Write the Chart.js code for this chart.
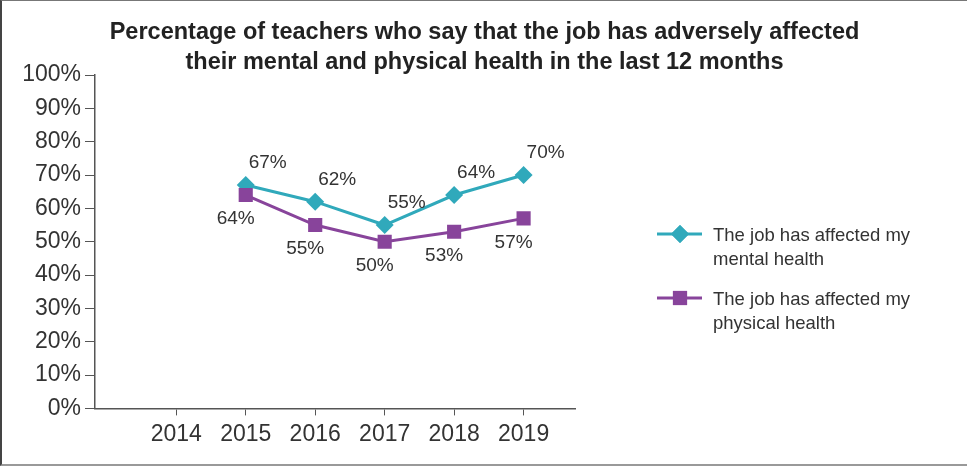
<!DOCTYPE html>
<html>
<head>
<meta charset="utf-8">
<script src="https://cdn.jsdelivr.net/npm/chart.js@4/dist/chart.umd.min.js"></script>
<style>
  html, body { margin: 0; padding: 0; background: #fff; }
  #wrap {
    width: 965px; height: 463px; position: relative;
    border-top: 1px solid #777; border-left: 2px solid #444; border-bottom: 2px solid #999;
  }
</style>
</head>
<body>
<div id="wrap"><canvas id="myChart"></canvas></div>
<script>
var years = [2014, 2015, 2016, 2017, 2018, 2019];
var surveyYears = [2015, 2016, 2017, 2018, 2019];
var mentalHealth = [67, 62, 55, 64, 70];
var physicalHealth = [64, 55, 50, 53, 57];
var yTicks = [0, 10, 20, 30, 40, 50, 60, 70, 80, 90, 100];
var titleLines = [
    'Percentage of teachers who say that the job has adversely affected',
    'their mental and physical health in the last 12 months'
];
var seriesNames = [
    ['The job has affected my', 'mental health'],
    ['The job has affected my', 'physical health']
];

var TEAL = '#30a9bb';
var PURPLE = '#88449b';
var TEXT = '#333333';
var AXIS = '#555555';
var FONT = '"Liberation Sans", Arial, sans-serif';

function toPoints(values) {
    return values.map(function(v, i) { return { x: surveyYears[i], y: v }; });
}

// title centred over the whole canvas, not just the plot
var wideTitle = {
    id: 'wideTitle',
    afterDraw: function(chart) {
        var ctx = chart.ctx;
        ctx.save();
        ctx.font = 'bold 23.5px ' + FONT;
        ctx.fillStyle = '#222';
        ctx.textAlign = 'center';
        ctx.textBaseline = 'middle';
        titleLines.forEach(function(line, i) {
            ctx.fillText(line, chart.width / 2, 32 + i * 30);
        });
        ctx.restore();
    }
};

// value labels next to each point, teal ones above-right, purple below-left
var pointLabels = {
    id: 'pointLabels',
    afterDatasetsDraw: function(chart) {
        var ctx = chart.ctx;
        ctx.save();
        ctx.font = '19px ' + FONT;
        ctx.fillStyle = TEXT;
        ctx.textAlign = 'center';
        ctx.textBaseline = 'middle';
        chart.data.datasets.forEach(function(ds, di) {
            var meta = chart.getDatasetMeta(di);
            meta.data.forEach(function(pt, i) {
                var dx = ds.labelSide === 'above' ? 22 : -10;
                var dy = ds.labelSide === 'above' ? -22 : 24;
                ctx.fillText(ds.data[i].y + '%', pt.x + dx, pt.y + dy);
            });
        });
        ctx.restore();
    }
};

// legend on the right: line with marker, two-line label
var sideLegend = {
    id: 'sideLegend',
    afterDraw: function(chart) {
        var ctx = chart.ctx;
        var x0 = chart.chartArea.right + 82;
        var rows = [233, 297];
        ctx.save();
        chart.data.datasets.forEach(function(ds, di) {
            var y = rows[di];
            ctx.strokeStyle = ds.borderColor;
            ctx.lineWidth = 3;
            ctx.beginPath();
            ctx.moveTo(x0, y);
            ctx.lineTo(x0 + 45, y);
            ctx.stroke();
            ctx.fillStyle = ds.pointBackgroundColor;
            Chart.helpers.drawPoint(ctx, {
                pointStyle: ds.pointStyle,
                radius: ds.pointRadius,
                rotation: 0,
                borderWidth: 0
            }, x0 + 23, y);
            ctx.fill();
            ctx.fillStyle = TEXT;
            ctx.font = '18.5px ' + FONT;
            ctx.textAlign = 'left';
            ctx.textBaseline = 'middle';
            seriesNames[di].forEach(function(line, li) {
                ctx.fillText(line, x0 + 56, y + 2 + li * 24);
            });
        });
        ctx.restore();
    }
};

var config = {
    type: 'line',
    data: {
        datasets: [{
            label: seriesNames[0].join(' '),
            data: toPoints(mentalHealth),
            borderColor: TEAL,
            backgroundColor: TEAL,
            pointBackgroundColor: TEAL,
            pointBorderWidth: 0,
            pointStyle: 'rectRot',
            pointRadius: 9,
            borderWidth: 3,
            labelSide: 'above',
            order: 1
        }, {
            label: seriesNames[1].join(' '),
            data: toPoints(physicalHealth),
            borderColor: PURPLE,
            backgroundColor: PURPLE,
            pointBackgroundColor: PURPLE,
            pointBorderWidth: 0,
            pointStyle: 'rect',
            pointRadius: 10,
            borderWidth: 3,
            labelSide: 'below',
            order: 0
        }]
    },
    options: {
        responsive: true,
        maintainAspectRatio: false,
        animation: false,
        layout: { padding: { left: 0, right: 392, top: 74, bottom: 11 } },
        plugins: {
            legend: { display: false },
            tooltip: { enabled: false },
            title: { display: false }
        },
        scales: {
            x: {
                type: 'linear',
                min: 2012.83,
                max: 2019.74,
                afterBuildTicks: function(s) {
                    s.ticks = years.map(function(v) { return { value: v }; });
                },
                ticks: {
                    color: TEXT,
                    font: { family: FONT, size: 23 },
                    padding: 5,
                    callback: function(v) { return String(v); }
                },
                grid: { drawOnChartArea: false, tickLength: 7, color: AXIS },
                border: { color: AXIS, width: 1.5 }
            },
            y: {
                min: 0,
                max: 100,
                afterBuildTicks: function(s) {
                    s.ticks = yTicks.map(function(v) { return { value: v }; });
                },
                afterFit: function(s) { s.width = 93; },
                ticks: {
                    color: TEXT,
                    font: { family: FONT, size: 23 },
                    padding: 4,
                    callback: function(v) { return v + '%'; }
                },
                grid: { drawOnChartArea: false, tickLength: 10, color: AXIS },
                border: { color: AXIS, width: 1.5 }
            }
        }
    },
    plugins: [wideTitle, pointLabels, sideLegend]
};

var myChart = new Chart(document.getElementById('myChart'), config);
</script>
</body>
</html>
